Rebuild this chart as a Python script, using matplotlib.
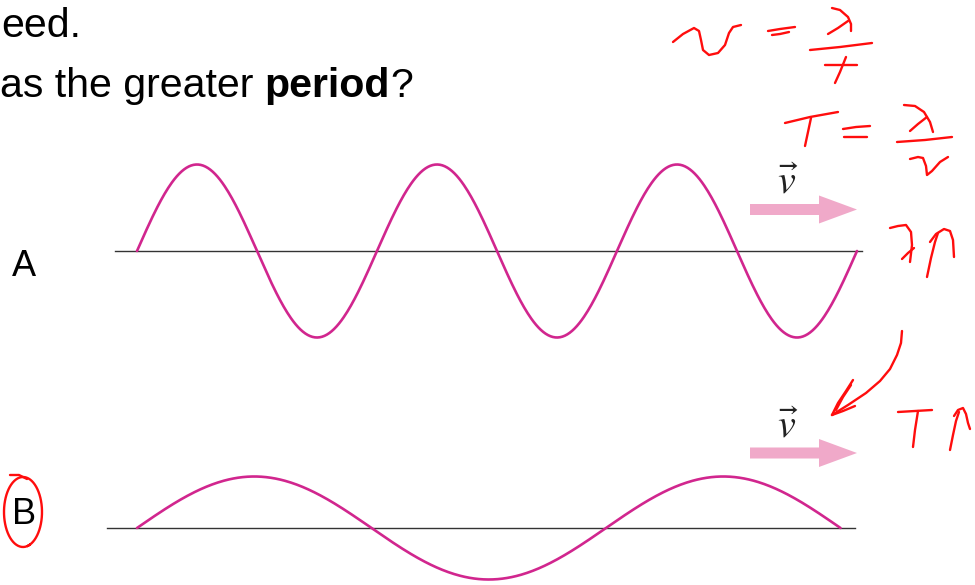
import numpy as np
import matplotlib
matplotlib.use("Agg")
import matplotlib.pyplot as plt
from matplotlib.patches import FancyArrow

# ---- data (pixel-space layout of the slide) ----
wave_labels = ["A", "B"]
wave_x_start = [137, 137]          # where each wave starts on its axis
wave_cycles = [3.0, 1.5]           # number of cycles drawn
wave_wavelength = [240, 469]       # wavelength (px)
wave_amplitude = [86.5, 51.5]      # amplitude (px)
axis_y = [251, 528]                # baseline of each wave
axis_x = [(115, 862), (107, 855)]  # extent of baseline
arrow_y = [209.5, 453]
label_pos = [(12, 267), (12, 515)]

WAVE_COLOR = "#d1268e"
ARROW_COLOR = "#f0a9c9"
INK = "#ff0d0d"

W, H = 975, 585
fig = plt.figure(figsize=(W / 100, H / 100), dpi=100)
ax = fig.add_axes([0, 0, 1, 1])
ax.set_xlim(0, W)
ax.set_ylim(H, 0)
ax.axis("off")

# slide text
FS = 29.6
ax.text(1, 37, "eed.", fontsize=FS, family="Liberation Sans", va="baseline", ha="left")
t1 = ax.text(0, 97, "as the greater ", fontsize=FS, family="Liberation Sans", va="baseline", ha="left")
fig.canvas.draw()
r = fig.canvas.get_renderer()
bb = t1.get_window_extent(r)
x_bold = ax.transData.inverted().transform((bb.x1, 0))[0]
t2 = ax.text(x_bold, 97, "period", fontsize=FS, family="Liberation Sans", weight="bold",
             va="baseline", ha="left")
bb2 = t2.get_window_extent(r)
x_q = ax.transData.inverted().transform((bb2.x1, 0))[0]
ax.text(x_q, 97, "?", fontsize=FS, family="Liberation Sans", va="baseline", ha="left")

for i in range(2):
    # baseline
    ax.plot(axis_x[i], [axis_y[i], axis_y[i]], color="#333333", lw=1.0, zorder=2)
    # wave
    x = np.linspace(wave_x_start[i], wave_x_start[i] + wave_cycles[i] * wave_wavelength[i], 600)
    y = axis_y[i] - wave_amplitude[i] * np.sin(2 * np.pi * (x - wave_x_start[i]) / wave_wavelength[i])
    ax.plot(x, y, color=WAVE_COLOR, lw=1.9, solid_capstyle="round", zorder=3)
    # velocity arrow
    ax.add_patch(FancyArrow(750, arrow_y[i], 107, 0, width=11, head_width=28, head_length=38,
                            length_includes_head=True, color=ARROW_COLOR, lw=0, zorder=2))
    ax.text(788, arrow_y[i] - 16, r"$\vec{v}$", fontsize=29, ha="center", va="baseline",
            math_fontfamily="stix", color="#222222")
    ax.text(label_pos[i][0], label_pos[i][1], wave_labels[i], fontsize=26,
            family="Liberation Sans", va="center", ha="left")

# ---- handwriting strokes ----
strokes = [
    # v = lambda / f
    [(673, 42), (683, 34), (694, 28), (699, 31), (701, 40), (703, 50), (709, 55), (718, 53), (725, 45), (729, 33), (733, 27), (741, 25)],
    [(768, 31), (780, 29), (795, 27)],
    [(772, 35), (780, 34), (789, 32)],
    [(832, 8), (840, 10), (848, 17), (851, 24), (851, 31)],
    [(828, 34), (838, 28), (848, 21)],
    [(810, 50), (840, 47), (872, 43)],
    [(825, 65), (840, 65), (857, 65)],
    [(846, 57), (840, 72), (835, 83)],
    # T = lambda / v
    [(785, 123), (810, 117), (838, 112)],
    [(811, 118), (808, 132), (805, 146)],
    [(843, 129), (856, 127), (870, 126)],
    [(844, 137), (856, 137), (867, 137)],
    [(904, 105), (915, 106), (924, 112), (930, 122), (933, 132)],
    [(910, 131), (918, 124), (927, 117)],
    [(897, 142), (925, 140), (952, 137)],
    [(910, 159), (918, 157), (923, 158), (926, 166), (927, 175), (932, 171), (940, 162), (948, 157)],
    # lambda up
    [(890, 228), (898, 226), (906, 225), (911, 232), (912, 245), (910, 262)],
    [(902, 259), (908, 253), (914, 248)],
    [(927, 277), (931, 258), (935, 242), (938, 233)],
    [(930, 242), (936, 234), (944, 229), (950, 231), (953, 240), (954, 257)],
    # curved arrow
    [(902, 331), (901, 343), (897, 355), (890, 369), (880, 381), (866, 393), (848, 405), (832, 415)],
    [(832, 415), (838, 403), (846, 391), (853, 380)],
    [(836, 410), (843, 397), (851, 385)],
    [(832, 415), (843, 411), (855, 406)],
    # T up
    [(898, 412), (915, 411), (932, 410)],
    [(918, 411), (915, 430), (913, 447)],
    [(950, 450), (953, 435), (956, 421), (959, 412)],
    [(954, 416), (958, 410), (963, 408), (966, 414), (968, 423), (970, 429)],
    # circle tail round B
    [(10, 475), (19, 475), (27, 479)],
]
for s in strokes:
    xs, ys = zip(*s)
    ax.plot(xs, ys, color=INK, lw=1.7, solid_capstyle="round", solid_joinstyle="round", zorder=5)

# ellipse round B
th = np.linspace(np.deg2rad(-75), np.deg2rad(290), 200)
ex = 23 + 19 * np.cos(th)
ey = 512 - 35 * np.sin(th)
ax.plot(ex, ey, color=INK, lw=1.7, zorder=5)

fig.savefig("out.png", dpi=100, facecolor="white")
